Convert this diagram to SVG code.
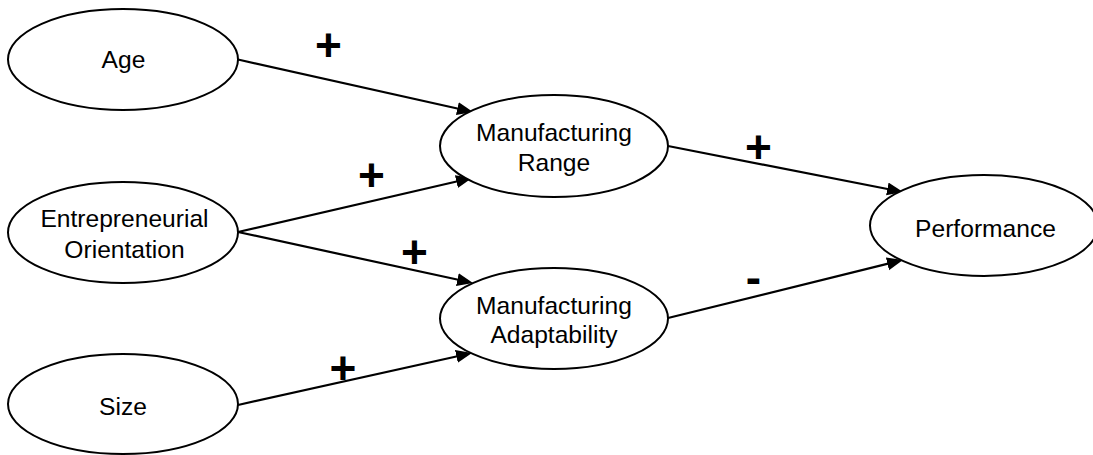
<svg xmlns="http://www.w3.org/2000/svg" width="1093" height="455" viewBox="0 0 1093 455">
<style>
.node ellipse{fill:#fff;stroke:#000;stroke-width:2}
.node text{font-family:"Liberation Sans",Arial,sans-serif;font-size:24.6px;fill:#000;text-anchor:middle}
.conn line{stroke:#000;stroke-width:2.2;marker-end:url(#arr)}
.sign{font-family:"Liberation Sans",Arial,sans-serif;font-size:46px;font-weight:bold;fill:#000;text-anchor:middle}
</style>
<defs>
<marker id="arr" markerUnits="userSpaceOnUse" markerWidth="17" markerHeight="14" refX="8" refY="6.5" orient="auto">
<path d="M0,0 L16,6.5 L0,13 z" fill="#000"/>
</marker>
</defs>
<rect width="1093" height="455" fill="#fff"/>
<g id="connectors" class="conn">
<line x1="238" y1="59.5" x2="465.2" y2="110.3"/>
<line x1="238" y1="232" x2="464.2" y2="179.8"/>
<line x1="238" y1="232" x2="465.2" y2="281.3"/>
<line x1="238" y1="405" x2="464.2" y2="354.7"/>
<line x1="668" y1="146" x2="895.2" y2="190.5"/>
<line x1="668" y1="318" x2="895.2" y2="261.9"/>
</g>
<g id="age" class="node"><ellipse cx="123" cy="59.5" rx="115" ry="50.5"/><text x="123.5" y="68">Age</text></g>
<g id="eo" class="node"><ellipse cx="123" cy="232.5" rx="115" ry="50.5"/><text x="124.5" y="227">Entrepreneurial</text><text x="124.5" y="258">Orientation</text></g>
<g id="size" class="node"><ellipse cx="123" cy="404" rx="115" ry="50"/><text x="123" y="415">Size</text></g>
<g id="mrange" class="node"><ellipse cx="554" cy="146" rx="114" ry="51"/><text x="554" y="141">Manufacturing</text><text x="554" y="171">Range</text></g>
<g id="madapt" class="node"><ellipse cx="554" cy="318.5" rx="114" ry="50.5"/><text x="554" y="314">Manufacturing</text><text x="554" y="343">Adaptability</text></g>
<g id="perf" class="node"><ellipse cx="984" cy="225.5" rx="114" ry="50.5"/><text x="985.5" y="237">Performance</text></g>
<g id="labels">
<text class="sign" x="328.5" y="61">+</text>
<text class="sign" x="371.5" y="191">+</text>
<text class="sign" x="414.5" y="267.5">+</text>
<text class="sign" x="343" y="383.5">+</text>
<text class="sign" x="758.5" y="162.5">+</text>
<text class="sign" x="753.5" y="293">-</text>
</g>
</svg>
